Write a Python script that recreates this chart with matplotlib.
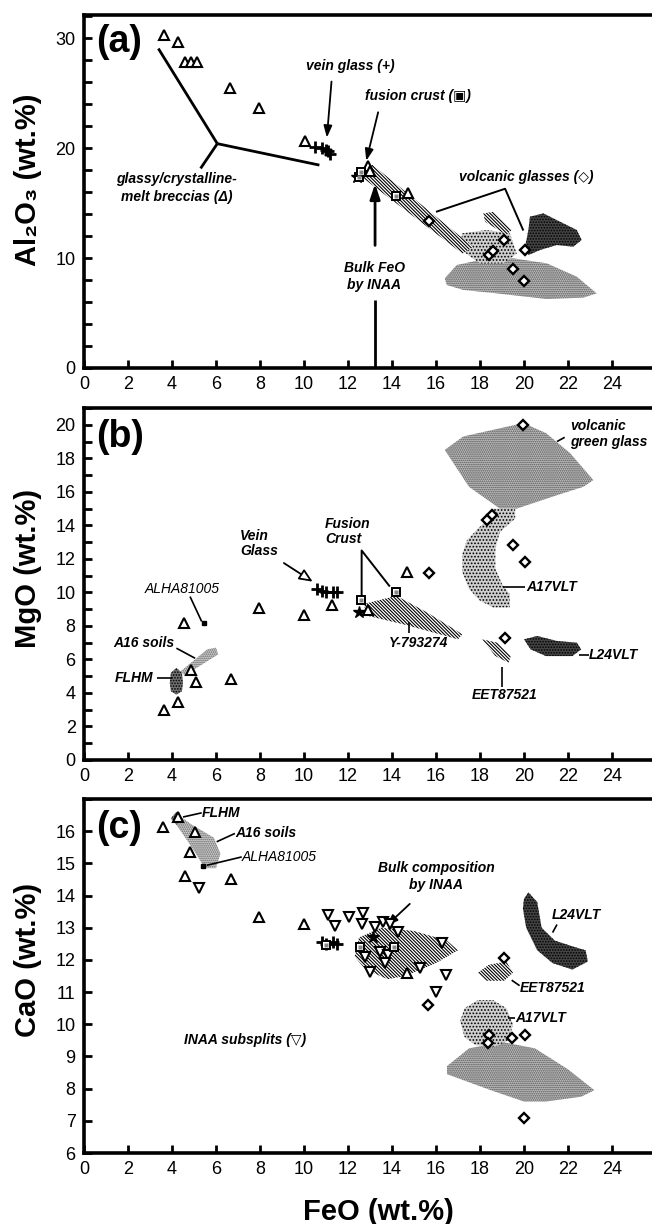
import numpy as np
import matplotlib
matplotlib.use("Agg")
import matplotlib.pyplot as plt
from matplotlib.patches import Polygon

plt.rcParams['font.family'] = ['Liberation Sans', 'DejaVu Sans']
plt.rcParams['hatch.linewidth'] = 0.8

# ---------------- data: panel (a) FeO vs Al2O3 ----------------
a_breccia_feo = [3.65, 4.29, 4.59, 4.86, 5.14, 6.65, 7.97, 10.03, 12.9, 13.0, 14.74]
a_breccia_al = [30.3, 29.6, 27.8, 27.8, 27.8, 25.5, 23.6, 20.6, 18.4, 17.9, 15.9]
a_vein_feo = [10.5, 10.8, 11.0, 11.1, 11.2]
a_vein_al = [20.1, 20.0, 19.8, 19.7, 19.5]
a_fusion_feo = [12.5, 12.6, 14.2]
a_fusion_al = [17.4, 17.8, 15.6]
a_volc_feo = [15.66, 19.1, 18.4, 18.6, 20.06, 19.5, 20.0]
a_volc_al = [13.4, 11.6, 10.3, 10.6, 10.7, 9.0, 7.9]
a_bulk_feo = [12.4]
a_bulk_al = [17.4]

a_y79 = [(12.6, 17.4), (13.1, 18.5), (17.7, 11.0), (17.2, 10.4)]
a_a17 = [(17.17, 12.24), (18.3, 12.55), (19.36, 12.24), (19.67, 10.4), (19.06, 9.5),
         (18.0, 9.5), (17.17, 10.7)]
a_eet = [(18.15, 14.06), (18.6, 14.2), (19.44, 12.55), (19.2, 12.1), (18.23, 13.3)]
a_l24 = [(20.27, 13.76), (20.88, 14.06), (21.64, 13.3), (22.4, 12.55), (22.62, 11.64),
         (22.24, 11.03), (21.49, 11.18), (20.73, 10.73), (20.2, 10.27), (20.05, 11.03),
         (20.2, 12.55)]
a_green = [(16.4, 8.15), (16.94, 9.36), (18.0, 9.82), (19.5, 9.97), (21.03, 9.52),
           (22.4, 8.3), (23.3, 6.79), (22.7, 6.4), (21.03, 6.27), (18.76, 6.79),
           (17.24, 7.1), (16.49, 7.55)]

# ---------------- data: panel (b) FeO vs MgO ----------------
b_breccia_feo = [3.65, 4.26, 4.56, 4.85, 5.08, 6.67, 7.95, 10.0, 11.26, 12.9, 14.7]
b_breccia_mg = [3.0, 3.48, 8.16, 5.37, 4.68, 4.82, 9.05, 8.66, 9.25, 8.96, 11.2]
b_vein_feo = [10.6, 10.8, 11.0, 11.3, 11.5]
b_vein_mg = [10.2, 10.1, 10.0, 10.05, 10.0]
b_fusion_feo = [12.6, 14.2]
b_fusion_mg = [9.55, 10.05]
b_volc_feo = [19.97, 18.53, 18.3, 19.49, 20.05, 15.66, 19.14]
b_volc_mg = [20.0, 14.6, 14.3, 12.8, 11.84, 11.18, 7.3]
b_alha_feo = [5.45]
b_alha_mg = [8.16]
b_bulk_feo = [12.5]
b_bulk_mg = [8.8]

b_green = [(16.4, 18.5), (17.24, 19.3), (19.97, 20.1), (21.0, 19.5), (22.1, 18.3),
           (23.15, 16.7), (22.7, 16.3), (21.5, 15.8), (19.67, 15.0), (18.9, 15.0),
           (17.5, 16.3)]
b_a17 = [(18.6, 15.0), (19.6, 15.0), (19.6, 14.4), (18.9, 13.6), (18.7, 12.6),
         (18.7, 11.4), (19.0, 10.5), (19.35, 9.9), (19.35, 9.1), (18.6, 9.1),
         (18.0, 9.5), (17.5, 10.2), (17.2, 11.2), (17.2, 12.3), (17.4, 13.1),
         (17.9, 13.8), (18.4, 14.4)]
b_y79 = [(12.7, 9.3), (14.2, 9.8), (15.6, 8.8), (17.2, 7.5), (17.0, 7.2), (14.5, 8.1),
         (12.9, 8.6)]
b_eet = [(18.1, 7.2), (18.8, 7.0), (19.4, 6.2), (19.3, 5.8), (18.7, 6.2)]
b_l24 = [(20.0, 7.2), (20.6, 7.4), (21.5, 7.1), (22.4, 7.0), (22.6, 6.6), (22.2, 6.2),
         (21.0, 6.2), (20.3, 6.6)]
b_a16 = [(4.4, 5.3), (5.6, 6.6), (6.0, 6.7), (6.1, 6.3), (5.0, 5.4), (4.6, 5.0)]
b_flhm = [(4.2, 5.5), (4.45, 5.2), (4.5, 4.6), (4.45, 4.1), (4.2, 3.9), (3.95, 4.1),
          (3.9, 4.6), (3.95, 5.2)]

# ---------------- data: panel (c) FeO vs CaO ----------------
c_breccia_feo = [3.6, 4.29, 5.05, 4.82, 4.59, 6.67, 7.95, 10.0, 14.7]
c_breccia_ca = [16.13, 16.44, 15.98, 15.36, 14.6, 14.5, 13.32, 13.13, 11.6]
c_inaa_feo = [5.24, 11.1, 11.4, 12.06, 12.7, 12.62, 13.6, 13.9, 13.23, 14.29, 13.45,
              13.83, 13.68, 12.77, 13.0, 15.27, 16.26, 16.45, 16.0]
c_inaa_ca = [14.22, 13.39, 13.05, 13.34, 13.45, 13.11, 13.18, 13.11, 13.03, 12.88, 12.25,
             12.15, 11.89, 12.1, 11.63, 11.74, 12.51, 11.53, 11.01]
c_vein_feo = [10.8, 11.0, 11.3, 11.5]
c_vein_ca = [12.55, 12.5, 12.55, 12.5]
c_fusion_feo = [11.0, 12.55, 14.1]
c_fusion_ca = [12.46, 12.4, 12.4]
c_volc_feo = [19.1, 18.4, 18.35, 19.44, 20.05, 20.0, 15.65]
c_volc_ca = [12.05, 9.66, 9.43, 9.56, 9.66, 7.08, 10.6]
c_alha_feo = [5.42]
c_alha_ca = [14.91]
c_bulk_feo = [13.15]
c_bulk_ca = [12.7]

c_a16 = [(4.3, 16.5), (4.9, 16.2), (5.9, 15.8), (6.2, 15.3), (6.0, 14.85), (5.5, 14.85),
         (4.9, 15.5), (4.2, 16.2)]
c_flhm = [(3.95, 16.4), (4.2, 16.6), (4.45, 16.4), (4.2, 16.2)]
c_y79 = [(12.5, 12.7), (13.5, 13.0), (15.0, 12.9), (16.5, 12.6), (17.0, 12.3), (16.0, 11.9),
         (14.6, 11.5), (13.8, 11.4), (12.8, 11.7), (12.3, 12.1)]
c_eet = [(17.9, 11.6), (18.4, 11.85), (19.2, 11.95), (19.5, 11.6), (19.1, 11.35),
         (18.3, 11.35)]
c_a17 = [(17.1, 10.1), (17.3, 10.5), (17.9, 10.75), (18.6, 10.75), (19.2, 10.5),
         (19.5, 10.0), (19.3, 9.5), (18.7, 9.3), (17.8, 9.35), (17.3, 9.6)]
c_green = [(16.5, 8.7), (17.5, 9.25), (19.0, 9.45), (20.5, 9.25), (22.0, 8.6), (23.2, 7.95),
           (22.6, 7.75), (21.0, 7.6), (20.0, 7.6), (18.5, 7.95), (16.5, 8.45)]
c_l24 = [(20.0, 13.9), (20.2, 14.1), (20.6, 13.8), (20.8, 13.0), (21.4, 12.6), (22.3, 12.4),
         (22.8, 12.3), (22.9, 11.95), (22.2, 11.7), (21.3, 11.9), (20.6, 12.3),
         (20.1, 13.0), (19.95, 13.6)]

# fill styles for the fields
GREEN = dict(fc='#bdbdbd', ec='#555555', hatch='.' * 8, lw=0)
A17 = dict(fc='#cfcfcf', ec='black', hatch='.' * 5, lw=0)
L24 = dict(fc='#444444', ec='black', hatch='.' * 6, lw=0)
HATCH = dict(fc='white', ec='black', hatch='\\' * 10, lw=0)
A16 = dict(fc='#cccccc', ec='#666666', hatch='.' * 8, lw=0)
FLHM = dict(fc='#707070', ec='black', hatch='.' * 6, lw=0)

W, H = 652, 1224
fig = plt.figure(figsize=(W / 100, H / 100), dpi=100)


def px_axes(left, top, right, bottom):
    return fig.add_axes([left / W, 1 - bottom / H, (right - left) / W, (bottom - top) / H])


def style(ax, ylim, ymajor, yminor):
    ax.set_xlim(0, 28)
    ax.set_ylim(*ylim)
    ax.set_xticks(np.arange(0, 25, 2))
    ax.set_yticks(ymajor)
    ax.set_yticks(yminor, minor=True)
    ax.tick_params(which='both', direction='in', length=6, width=2, labelsize=13, pad=6)
    for s in ax.spines.values():
        s.set_linewidth(2.6)
    ax.spines['right'].set_visible(False)


def field(ax, pts, st):
    ax.add_patch(Polygon(pts, closed=True, zorder=1, **st))


def pts(ax, x, y, kind):
    if kind == 'up':
        ax.plot(x, y, '^', ms=6.5, mfc='white', mec='black', mew=1.5, ls='none', zorder=4)
    elif kind == 'down':
        ax.plot(x, y, 'v', ms=6.5, mfc='white', mec='black', mew=1.5, ls='none', zorder=4)
    elif kind == 'plus':
        ax.plot(x, y, '+', ms=8, mec='black', mew=2, ls='none', zorder=4)
    elif kind == 'diamond':
        ax.plot(x, y, 'D', ms=5, mfc='white', mec='black', mew=1.7, ls='none', zorder=4)
    elif kind == 'fusion':
        ax.plot(x, y, 's', ms=5.5, mfc='white', mec='black', mew=1.4, ls='none', zorder=4)
        ax.plot(x, y, 's', ms=2.6, mfc='#888888', mec='none', ls='none', zorder=5)
    elif kind == 'alha':
        ax.plot(x, y, 's', ms=3.5, mfc='black', mec='black', ls='none', zorder=4)
    elif kind == 'bulk':
        ax.plot(x, y, '*', ms=9, mfc='black', mec='black', ls='none', zorder=3)


def note(ax, x, y, s, ha='center', weight='bold', size=10, **kw):
    ax.text(x, y, s, ha=ha, va='center', style='italic', weight=weight, fontsize=size,
            zorder=6, **kw)


def leader(ax, xs, ys, lw=1.2):
    ax.plot(xs, ys, color='black', lw=lw, zorder=2, solid_capstyle='butt')


# ---------------- panel (a) ----------------
ax = px_axes(84, 15, 700, 368)
style(ax, (0, 32.1), [0, 10, 20, 30], np.arange(0, 33, 2))
field(ax, a_green, GREEN)
field(ax, a_a17, A17)
field(ax, a_eet, HATCH)
field(ax, a_l24, L24)
field(ax, a_y79, HATCH)
pts(ax, a_bulk_feo, a_bulk_al, 'bulk')
pts(ax, a_breccia_feo, a_breccia_al, 'up')
pts(ax, a_vein_feo, a_vein_al, 'plus')
pts(ax, a_fusion_feo, a_fusion_al, 'fusion')
pts(ax, a_volc_feo, a_volc_al, 'diamond')
ax.text(0.02, 0.924, '(a)', transform=ax.transAxes, fontsize=27, weight='bold', va='center')

for end in [(3.38, 29.05), (10.7, 18.45), (5.3, 18.15)]:
    leader(ax, [6.06, end[0]], [20.4, end[1]], lw=2)
note(ax, 4.2, 16.35, 'glassy/crystalline-\nmelt breccias (\u0394)', linespacing=1.4)
note(ax, 12.1, 27.5, 'vein glass (+)')
ax.annotate('', xy=(11.03, 20.7), xytext=(11.26, 26.3),
            arrowprops=dict(arrowstyle='-|>,head_length=0.7,head_width=0.25',
                            color='black', lw=1.3))
note(ax, 15.2, 24.7, 'fusion crust (\u25a3)')
ax.annotate('', xy=(12.8, 18.6), xytext=(13.4, 23.5),
            arrowprops=dict(arrowstyle='-|>,head_length=0.7,head_width=0.25',
                            color='black', lw=1.3))
note(ax, 20.1, 17.4, 'volcanic glasses (\u25c7)')
leader(ax, [16.0, 19.14, 19.97], [14.2, 16.3, 12.5], lw=1.4)
note(ax, 13.2, 8.35, 'Bulk FeO\nby INAA', linespacing=1.3)
leader(ax, [13.23, 13.23], [0, 6.2], lw=2)
ax.annotate('', xy=(13.23, 17.0), xytext=(13.23, 10.9),
            arrowprops=dict(arrowstyle='-|>,head_length=0.9,head_width=0.3',
                            color='black', lw=2))

# ---------------- panel (b) ----------------
ax = px_axes(84, 408, 700, 760)
style(ax, (0, 21.0), np.arange(0, 21, 2), np.arange(0, 22, 1))
field(ax, b_green, GREEN)
field(ax, b_a17, A17)
field(ax, b_y79, HATCH)
field(ax, b_eet, HATCH)
field(ax, b_l24, L24)
field(ax, b_a16, A16)
field(ax, b_flhm, FLHM)
pts(ax, b_bulk_feo, b_bulk_mg, 'bulk')
pts(ax, b_breccia_feo, b_breccia_mg, 'up')
pts(ax, b_vein_feo, b_vein_mg, 'plus')
pts(ax, b_fusion_feo, b_fusion_mg, 'fusion')
pts(ax, b_volc_feo, b_volc_mg, 'diamond')
pts(ax, b_alha_feo, b_alha_mg, 'alha')
ax.text(0.02, 0.918, '(b)', transform=ax.transAxes, fontsize=27, weight='bold', va='center')

note(ax, 22.1, 19.45, 'volcanic\ngreen glass', ha='left', linespacing=1.1)
leader(ax, [21.5, 21.85], [19.0, 19.25])
note(ax, 20.1, 10.3, 'A17VLT', ha='left')
leader(ax, [19.06, 20.05], [10.35, 10.35])
note(ax, 22.95, 6.27, 'L24VLT', ha='left')
leader(ax, [22.5, 22.95], [6.27, 6.27])
note(ax, 19.1, 3.88, 'EET87521')
leader(ax, [18.99, 18.99], [5.57, 4.38])
note(ax, 15.2, 6.96, 'Y-793274')
leader(ax, [14.75, 14.75], [8.26, 7.6])
note(ax, 10.95, 13.65, 'Fusion\nCrust', ha='left', linespacing=1.1)
leader(ax, [12.62, 12.62, 13.9], [9.65, 12.5, 10.35], lw=1.4)
note(ax, 7.1, 12.9, 'Vein\nGlass', ha='left', linespacing=1.1)
ax.annotate('', xy=(10.5, 10.55), xytext=(8.98, 11.84),
            arrowprops=dict(arrowstyle='-|>,head_length=0.8,head_width=0.35',
                            fc='white', ec='black', lw=1.3))
note(ax, 4.47, 10.2, 'ALHA81005', weight='normal')
leader(ax, [4.82, 5.35], [9.75, 8.26])
note(ax, 2.7, 6.96, 'A16 soils')
leader(ax, [4.2, 5.05], [6.67, 6.07])
note(ax, 2.27, 4.9, 'FLHM')
leader(ax, [3.3, 3.98], [4.91, 4.91])

# ---------------- panel (c) ----------------
ax = px_axes(84, 799, 700, 1153)
style(ax, (6, 17), np.arange(6, 17, 1), np.arange(6, 18, 1))
field(ax, c_green, GREEN)
field(ax, c_a17, A17)
field(ax, c_y79, HATCH)
field(ax, c_eet, HATCH)
field(ax, c_l24, L24)
field(ax, c_a16, A16)
field(ax, c_flhm, FLHM)
pts(ax, c_bulk_feo, c_bulk_ca, 'bulk')
pts(ax, c_breccia_feo, c_breccia_ca, 'up')
pts(ax, c_inaa_feo, c_inaa_ca, 'down')
pts(ax, c_vein_feo, c_vein_ca, 'plus')
pts(ax, c_fusion_feo, c_fusion_ca, 'fusion')
pts(ax, c_volc_feo, c_volc_ca, 'diamond')
pts(ax, c_alha_feo, c_alha_ca, 'alha')
ax.text(0.02, 0.917, '(c)', transform=ax.transAxes, fontsize=27, weight='bold', va='center')

note(ax, 5.35, 16.57, 'FLHM', ha='left')
leader(ax, [4.5, 5.35], [16.44, 16.57])
note(ax, 6.86, 15.93, 'A16 soils', ha='left')
leader(ax, [6.03, 6.86], [15.67, 15.93])
note(ax, 7.17, 15.2, 'ALHA81005', ha='left', weight='normal')
leader(ax, [5.58, 7.17], [14.94, 15.2])
note(ax, 7.3, 9.5, 'INAA subsplits (\u25bd)')
note(ax, 16.0, 14.6, 'Bulk composition\nby INAA', linespacing=1.3)
ax.annotate('', xy=(13.7, 13.03), xytext=(14.9, 13.8),
            arrowprops=dict(arrowstyle='-|>,head_length=0.6,head_width=0.25',
                            color='black', lw=1.3))
note(ax, 21.25, 13.4, 'L24VLT', ha='left')
leader(ax, [21.3, 21.5], [12.85, 13.1])
note(ax, 19.8, 11.12, 'EET87521', ha='left')
leader(ax, [19.44, 19.8], [11.37, 11.2])
note(ax, 19.6, 10.18, 'A17VLT', ha='left')
leader(ax, [19.25, 19.6], [10.18, 10.18])

# ---------------- axis titles ----------------
fig.text(28 / W, 1 - 180 / H, 'Al\u2082O\u2083 (wt.%)', rotation=90, ha='center', va='center',
         fontsize=21, weight='bold')
fig.text(28 / W, 1 - 568 / H, 'MgO (wt.%)', rotation=90, ha='center', va='center',
         fontsize=21, weight='bold')
fig.text(28 / W, 1 - 960 / H, 'CaO (wt.%)', rotation=90, ha='center', va='center',
         fontsize=21, weight='bold')
fig.text(378 / W, 1 - 1220 / H, 'FeO (wt.%)', ha='center', va='baseline',
         fontsize=21, weight='bold')

fig.savefig('out.png', dpi=100)
